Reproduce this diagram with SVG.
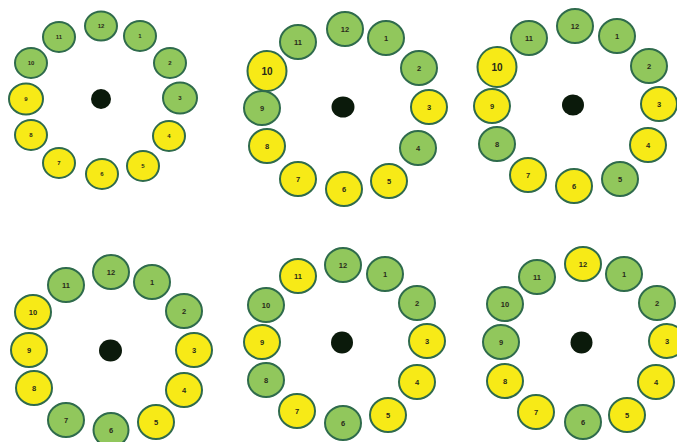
<svg xmlns="http://www.w3.org/2000/svg" width="677" height="442" viewBox="0 0 677 442">
<style>
.g{fill:#91c75c;stroke:#2f6b4c;stroke-width:2}
.y{fill:#f7ea17;stroke:#2f6b4c;stroke-width:2}
.dot{fill:#0b1a0b}
text{font-family:"Liberation Sans",Arial,sans-serif;font-weight:bold;fill:#2a2a1a;text-anchor:middle;dominant-baseline:central}
.s{font-size:6px}
.m{font-size:7.5px}
.l{font-size:10px}
</style>
<rect width="677" height="442" fill="#ffffff"/>
<g id="clock1">
<ellipse class="dot" cx="101" cy="99" rx="10" ry="10"/>
<g id="c1n12"><ellipse class="g" cx="101" cy="26" rx="16" ry="14.5"/><text class="s" x="101" y="26">12</text></g>
<g id="c1n1"><ellipse class="g" cx="140" cy="36" rx="16" ry="15"/><text class="s" x="140" y="36">1</text></g>
<g id="c1n2"><ellipse class="g" cx="170" cy="63" rx="16" ry="15"/><text class="s" x="170" y="63">2</text></g>
<g id="c1n3"><ellipse class="g" cx="180" cy="98" rx="17" ry="15.5"/><text class="s" x="180" y="98">3</text></g>
<g id="c1n4"><ellipse class="y" cx="169" cy="136" rx="16" ry="15"/><text class="s" x="169" y="136">4</text></g>
<g id="c1n5"><ellipse class="y" cx="143" cy="166" rx="16" ry="15"/><text class="s" x="143" y="166">5</text></g>
<g id="c1n6"><ellipse class="y" cx="102" cy="174" rx="16" ry="15"/><text class="s" x="102" y="174">6</text></g>
<g id="c1n7"><ellipse class="y" cx="59" cy="163" rx="16" ry="15"/><text class="s" x="59" y="163">7</text></g>
<g id="c1n8"><ellipse class="y" cx="31" cy="135" rx="16" ry="15"/><text class="s" x="31" y="135">8</text></g>
<g id="c1n9"><ellipse class="y" cx="26" cy="99" rx="17" ry="15.5"/><text class="s" x="26" y="99">9</text></g>
<g id="c1n10"><ellipse class="g" cx="31" cy="63" rx="16" ry="15"/><text class="s" x="31" y="63">10</text></g>
<g id="c1n11"><ellipse class="g" cx="59" cy="37" rx="16" ry="15"/><text class="s" x="59" y="37">11</text></g>
</g>
<g id="clock2">
<ellipse class="dot" cx="343" cy="107" rx="11.5" ry="10.5"/>
<g id="c2n12"><ellipse class="g" cx="345" cy="29" rx="18" ry="17"/><text class="m" x="345" y="29">12</text></g>
<g id="c2n1"><ellipse class="g" cx="386" cy="38" rx="18" ry="17"/><text class="m" x="386" y="38">1</text></g>
<g id="c2n2"><ellipse class="g" cx="419" cy="68" rx="18" ry="17"/><text class="m" x="419" y="68">2</text></g>
<g id="c2n3"><ellipse class="y" cx="429" cy="107" rx="18" ry="17"/><text class="m" x="429" y="107">3</text></g>
<g id="c2n4"><ellipse class="g" cx="418" cy="148" rx="18" ry="17"/><text class="m" x="418" y="148">4</text></g>
<g id="c2n5"><ellipse class="y" cx="389" cy="181" rx="18" ry="17"/><text class="m" x="389" y="181">5</text></g>
<g id="c2n6"><ellipse class="y" cx="344" cy="189" rx="18" ry="17"/><text class="m" x="344" y="189">6</text></g>
<g id="c2n7"><ellipse class="y" cx="298" cy="179" rx="18" ry="17"/><text class="m" x="298" y="179">7</text></g>
<g id="c2n8"><ellipse class="y" cx="267" cy="146" rx="18" ry="17"/><text class="m" x="267" y="146">8</text></g>
<g id="c2n9"><ellipse class="g" cx="262" cy="108" rx="18" ry="17"/><text class="m" x="262" y="108">9</text></g>
<g id="c2n10"><ellipse class="y" cx="267" cy="71" rx="19.5" ry="20"/><text class="l" x="267" y="71">10</text></g>
<g id="c2n11"><ellipse class="g" cx="298" cy="42" rx="18" ry="17"/><text class="m" x="298" y="42">11</text></g>
</g>
<g id="clock3">
<ellipse class="dot" cx="573" cy="105" rx="11" ry="10.5"/>
<g id="c3n12"><ellipse class="g" cx="575" cy="26" rx="18" ry="17"/><text class="m" x="575" y="26">12</text></g>
<g id="c3n1"><ellipse class="g" cx="617" cy="36" rx="18" ry="17"/><text class="m" x="617" y="36">1</text></g>
<g id="c3n2"><ellipse class="g" cx="649" cy="66" rx="18" ry="17"/><text class="m" x="649" y="66">2</text></g>
<g id="c3n3"><ellipse class="y" cx="659" cy="104" rx="18" ry="17"/><text class="m" x="659" y="104">3</text></g>
<g id="c3n4"><ellipse class="y" cx="648" cy="145" rx="18" ry="17"/><text class="m" x="648" y="145">4</text></g>
<g id="c3n5"><ellipse class="g" cx="620" cy="179" rx="18" ry="17"/><text class="m" x="620" y="179">5</text></g>
<g id="c3n6"><ellipse class="y" cx="574" cy="186" rx="18" ry="17"/><text class="m" x="574" y="186">6</text></g>
<g id="c3n7"><ellipse class="y" cx="528" cy="175" rx="18" ry="17"/><text class="m" x="528" y="175">7</text></g>
<g id="c3n8"><ellipse class="g" cx="497" cy="144" rx="18" ry="17"/><text class="m" x="497" y="144">8</text></g>
<g id="c3n9"><ellipse class="y" cx="492" cy="106" rx="18" ry="17"/><text class="m" x="492" y="106">9</text></g>
<g id="c3n10"><ellipse class="y" cx="497" cy="67" rx="19.5" ry="20"/><text class="l" x="497" y="67">10</text></g>
<g id="c3n11"><ellipse class="g" cx="529" cy="38" rx="18" ry="17"/><text class="m" x="529" y="38">11</text></g>
</g>
<g id="clock4">
<ellipse class="dot" cx="110.5" cy="350.5" rx="11.5" ry="11"/>
<g id="c4n12"><ellipse class="g" cx="111" cy="272" rx="18" ry="17"/><text class="m" x="111" y="272">12</text></g>
<g id="c4n1"><ellipse class="g" cx="152" cy="282" rx="18" ry="17"/><text class="m" x="152" y="282">1</text></g>
<g id="c4n2"><ellipse class="g" cx="184" cy="311" rx="18" ry="17"/><text class="m" x="184" y="311">2</text></g>
<g id="c4n3"><ellipse class="y" cx="194" cy="350" rx="18" ry="17"/><text class="m" x="194" y="350">3</text></g>
<g id="c4n4"><ellipse class="y" cx="184" cy="390" rx="18" ry="17"/><text class="m" x="184" y="390">4</text></g>
<g id="c4n5"><ellipse class="y" cx="156" cy="422" rx="18" ry="17"/><text class="m" x="156" y="422">5</text></g>
<g id="c4n6"><ellipse class="g" cx="111" cy="430" rx="17.5" ry="17"/><text class="m" x="111" y="430">6</text></g>
<g id="c4n7"><ellipse class="g" cx="66" cy="420" rx="18" ry="17"/><text class="m" x="66" y="420">7</text></g>
<g id="c4n8"><ellipse class="y" cx="34" cy="388" rx="18" ry="17"/><text class="m" x="34" y="388">8</text></g>
<g id="c4n9"><ellipse class="y" cx="29" cy="350" rx="18" ry="17"/><text class="m" x="29" y="350">9</text></g>
<g id="c4n10"><ellipse class="y" cx="33" cy="312" rx="18" ry="17"/><text class="m" x="33" y="312">10</text></g>
<g id="c4n11"><ellipse class="g" cx="66" cy="285" rx="18" ry="17"/><text class="m" x="66" y="285">11</text></g>
</g>
<g id="clock5">
<ellipse class="dot" cx="342" cy="342.5" rx="11" ry="11"/>
<g id="c5n12"><ellipse class="g" cx="343" cy="265" rx="18" ry="17"/><text class="m" x="343" y="265">12</text></g>
<g id="c5n1"><ellipse class="g" cx="385" cy="274" rx="18" ry="17"/><text class="m" x="385" y="274">1</text></g>
<g id="c5n2"><ellipse class="g" cx="417" cy="303" rx="18" ry="17"/><text class="m" x="417" y="303">2</text></g>
<g id="c5n3"><ellipse class="y" cx="427" cy="341" rx="18" ry="17"/><text class="m" x="427" y="341">3</text></g>
<g id="c5n4"><ellipse class="y" cx="417" cy="382" rx="18" ry="17"/><text class="m" x="417" y="382">4</text></g>
<g id="c5n5"><ellipse class="y" cx="388" cy="415" rx="18" ry="17"/><text class="m" x="388" y="415">5</text></g>
<g id="c5n6"><ellipse class="g" cx="343" cy="423" rx="18" ry="17"/><text class="m" x="343" y="423">6</text></g>
<g id="c5n7"><ellipse class="y" cx="297" cy="411" rx="18" ry="17"/><text class="m" x="297" y="411">7</text></g>
<g id="c5n8"><ellipse class="g" cx="266" cy="380" rx="18" ry="17"/><text class="m" x="266" y="380">8</text></g>
<g id="c5n9"><ellipse class="y" cx="262" cy="342" rx="18" ry="17"/><text class="m" x="262" y="342">9</text></g>
<g id="c5n10"><ellipse class="g" cx="266" cy="305" rx="18" ry="17"/><text class="m" x="266" y="305">10</text></g>
<g id="c5n11"><ellipse class="y" cx="298" cy="276" rx="18" ry="17"/><text class="m" x="298" y="276">11</text></g>
</g>
<g id="clock6">
<ellipse class="dot" cx="581.5" cy="342.5" rx="11" ry="11"/>
<g id="c6n12"><ellipse class="y" cx="583" cy="264" rx="18" ry="17"/><text class="m" x="583" y="264">12</text></g>
<g id="c6n1"><ellipse class="g" cx="624" cy="274" rx="18" ry="17"/><text class="m" x="624" y="274">1</text></g>
<g id="c6n2"><ellipse class="g" cx="657" cy="303" rx="18" ry="17"/><text class="m" x="657" y="303">2</text></g>
<g id="c6n3"><ellipse class="y" cx="667" cy="341" rx="18" ry="17"/><text class="m" x="667" y="341">3</text></g>
<g id="c6n4"><ellipse class="y" cx="656" cy="382" rx="18" ry="17"/><text class="m" x="656" y="382">4</text></g>
<g id="c6n5"><ellipse class="y" cx="627" cy="415" rx="18" ry="17"/><text class="m" x="627" y="415">5</text></g>
<g id="c6n6"><ellipse class="g" cx="583" cy="422" rx="18" ry="17"/><text class="m" x="583" y="422">6</text></g>
<g id="c6n7"><ellipse class="y" cx="536" cy="412" rx="18" ry="17"/><text class="m" x="536" y="412">7</text></g>
<g id="c6n8"><ellipse class="y" cx="505" cy="381" rx="18" ry="17"/><text class="m" x="505" y="381">8</text></g>
<g id="c6n9"><ellipse class="g" cx="501" cy="342" rx="18" ry="17"/><text class="m" x="501" y="342">9</text></g>
<g id="c6n10"><ellipse class="g" cx="505" cy="304" rx="18" ry="17"/><text class="m" x="505" y="304">10</text></g>
<g id="c6n11"><ellipse class="g" cx="537" cy="277" rx="18" ry="17"/><text class="m" x="537" y="277">11</text></g>
</g>
</svg>
